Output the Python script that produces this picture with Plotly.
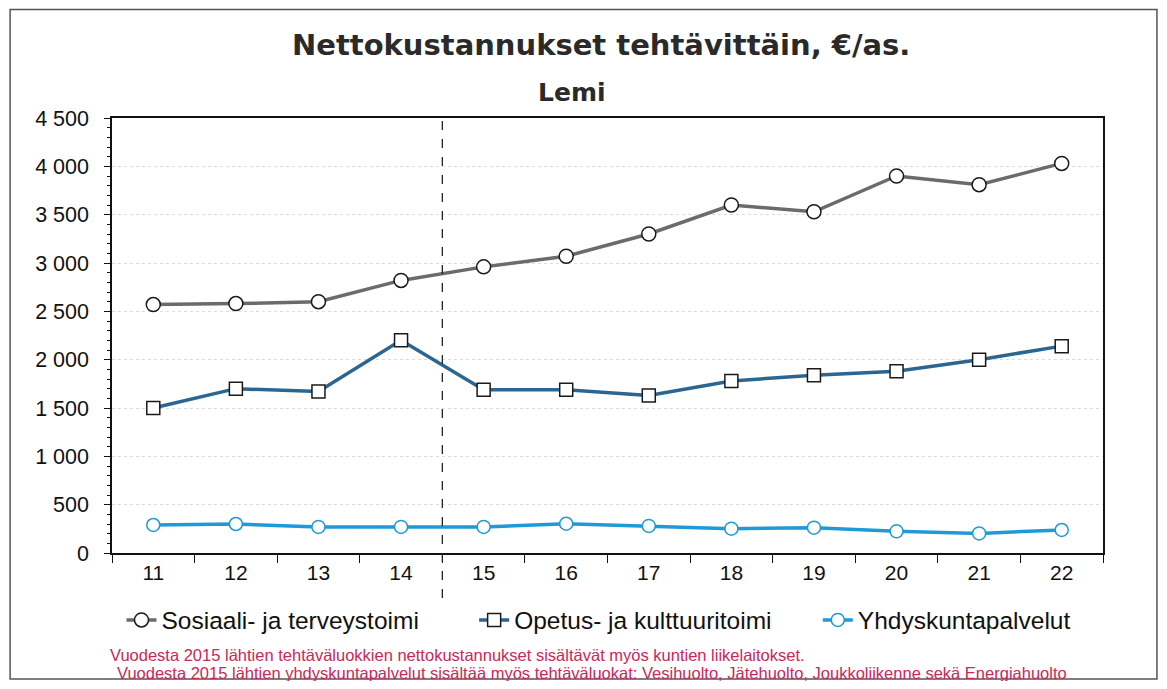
import plotly.graph_objects as go

years = ["11", "12", "13", "14", "15", "16", "17", "18", "19", "20", "21", "22"]
sosiaali = [2570, 2580, 2600, 2820, 2960, 3070, 3300, 3600, 3530, 3900, 3810, 4030]
opetus = [1500, 1700, 1670, 2200, 1690, 1690, 1630, 1780, 1840, 1880, 2000, 2140]
yhdyskunta = [290, 300, 270, 270, 270, 303, 280, 252, 262, 224, 203, 238]

series_names = ["Sosiaali- ja terveystoimi", "Opetus- ja kulttuuritoimi", "Yhdyskuntapalvelut"]
title_text = "Nettokustannukset tehtävittäin, €/as."
subtitle_text = "Lemi"
notes = [
    "Vuodesta 2015 lähtien tehtäväluokkien nettokustannukset sisältävät myös kuntien liikelaitokset.",
    "Vuodesta 2015 lähtien yhdyskuntapalvelut sisältää myös tehtäväluokat: Vesihuolto, Jätehuolto, Joukkoliikenne sekä Energiahuolto",
]

FONT = "Liberation Sans, Arial, sans-serif"
TFONT = "DejaVu Sans, Liberation Sans, sans-serif"

# page has an 8px body margin; work in reference-page pixel coordinates
OFF = 8
W, H = 1151, 673
PL, PR, PT, PB = 111.5, 1103.5, 118, 553  # plot area in page px
L = PL - OFF
R = W - (PR - OFF)
T = PT - OFF
B = H - (PB - OFF)
pw = PR - PL
ph = PB - PT

def px_x(x):
    return (x - PL) / pw

def px_y(y):
    return (PB - y) / ph

fig = go.Figure()
fig.add_trace(go.Scatter(
    x=years, y=sosiaali, name=series_names[0], mode="lines+markers", legend="legend",
    line=dict(color="#6e6a6c", width=3.5),
    marker=dict(symbol="circle", size=14, color="white", line=dict(color="#1a1a1a", width=1.5)),
))
fig.add_trace(go.Scatter(
    x=years, y=opetus, name=series_names[1], mode="lines+markers", legend="legend2",
    line=dict(color="#2a6690", width=3.5),
    marker=dict(symbol="square", size=13, color="white", line=dict(color="#1a1a1a", width=1.5)),
))
fig.add_trace(go.Scatter(
    x=years, y=yhdyskunta, name=series_names[2], mode="lines+markers", legend="legend3",
    line=dict(color="#1f9ad6", width=3.5),
    marker=dict(symbol="circle", size=13, color="white", line=dict(color="#1f9ad6", width=1.5)),
))

leg_common = dict(orientation="h", yanchor="middle", xanchor="left", y=px_y(620),
                  font=dict(size=24.5, family=FONT, color="#111111"),
                  itemwidth=30, bgcolor="rgba(0,0,0,0)", borderwidth=0)

fig.update_layout(
    width=W, height=H,
    margin=dict(l=L, r=R, t=T, b=B),
    paper_bgcolor="white", plot_bgcolor="white",
    font=dict(family=FONT, color="#111111", size=21),
    separators=", ",
    showlegend=True,
    legend=dict(leg_common, x=px_x(121)),
    legend2=dict(leg_common, x=px_x(474)),
    legend3=dict(leg_common, x=px_x(818)),
)

fig.update_xaxes(
    type="category", range=[-0.5, 11.5],
    showline=True, linecolor="#111111", linewidth=1.5, mirror=True,
    ticks="outside", ticklen=8, tickcolor="#111111", tickson="boundaries",
    showgrid=False, tickfont=dict(size=21, family=FONT),
)
fig.update_yaxes(
    range=[0, 4500], dtick=500, tickformat=",d",
    showline=True, linecolor="#111111", linewidth=1.5, mirror=True,
    ticks="outside", ticklen=6, tickcolor="#111111", ticklabelstandoff=11,
    showgrid=True, gridcolor="#dcdcdc", griddash="dot", gridwidth=1,
    zeroline=False, tickfont=dict(size=21.5, family=FONT),
    minor=dict(dtick=100, ticks="outside", ticklen=3, tickcolor="#111111", showgrid=False),
)

# dashed divider between 2014 and 2015
fig.add_shape(type="line", xref="x", yref="paper", x0=3.5, x1=3.5,
              y0=px_y(598), y1=1, line=dict(color="#222222", width=1.3, dash="dash"))

# outer frame
fig.add_shape(type="rect", xref="paper", yref="paper",
              x0=px_x(9.5), x1=px_x(1157.5), y0=px_y(679), y1=px_y(9.5),
              line=dict(color="#555555", width=1.5))

fig.add_annotation(text=f"<b>{title_text}</b>", xref="paper", yref="paper",
                   x=px_x(601), y=px_y(45), showarrow=False, xanchor="center", yanchor="middle",
                   font=dict(size=29, family=TFONT, color="#2a2a2a"))
fig.add_annotation(text=f"<b>{subtitle_text}</b>", xref="paper", yref="paper",
                   x=px_x(572), y=px_y(92), showarrow=False, xanchor="center", yanchor="middle",
                   font=dict(size=25, family=TFONT, color="#2a2a2a"))
for note, xpx, ypx in zip(notes, [107, 115], [655, 673]):
    fig.add_annotation(text=note, xref="paper", yref="paper",
                       x=px_x(xpx), y=px_y(ypx), showarrow=False, xanchor="left", yanchor="middle",
                       font=dict(size=16.5, family=FONT, color="#c8285a"))

fig.write_html("out.html")
